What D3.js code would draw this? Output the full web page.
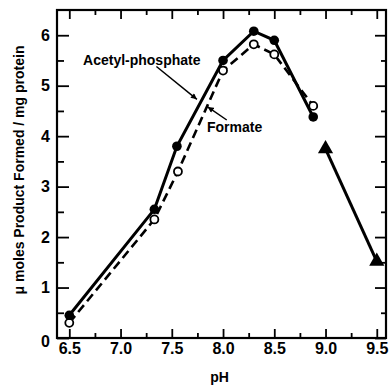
<html>
<head>
<script src="https://d3js.org/d3.v7.min.js"></script>
<style>
  body { margin: 0; background: #fff; }
  text { font-family: "Liberation Sans", Arial, sans-serif; font-weight: bold; fill: #000; }
</style>
</head>
<body>
<script>
// data
var acetylPH  = [6.5, 7.33, 7.55, 8.0, 8.3, 8.5, 8.88];
var acetylVal = [0.45, 2.55, 3.8, 5.5, 6.08, 5.9, 4.38];
var formatePH  = [6.5, 7.33, 7.56, 8.0, 8.3, 8.5, 8.88];
var formateVal = [0.3, 2.35, 3.3, 5.3, 5.82, 5.62, 4.6];
var triPH  = [9.0, 9.5];
var triVal = [3.75, 1.52];
var xMajor = [6.5, 7.0, 7.5, 8.0, 8.5, 9.0, 9.5];
var xMinor = [6.75, 7.25, 7.75, 8.25, 8.75, 9.25];
var yMajor = [0, 1, 2, 3, 4, 5, 6];
var yMinor = [0.5, 1.5, 2.5, 3.5, 4.5, 5.5];

var w = 389, h = 385;
var pl = 57, pr = 386, pt = 10, pb = 338; // plot frame edges

var x = d3.scaleLinear().domain([6.38, 9.59]).range([pl, pr]);
var y = d3.scaleLinear().domain([0, 6.5]).range([pb, pt]);

var svg = d3.select("body").append("svg").attr("width", w).attr("height", h);

// ticks (all pointing inward)
svg.append("g").attr("transform", "translate(0," + pb + ")")
  .call(d3.axisBottom(x).tickValues(xMajor).tickSize(-9).tickPadding(5).tickFormat(d3.format(".1f")))
  .call(g => g.select(".domain").remove())
  .call(g => g.selectAll("text").style("font-size", "16px"));
svg.append("g").attr("transform", "translate(0," + pb + ")")
  .call(d3.axisBottom(x).tickValues(xMinor).tickSize(-5).tickFormat(""))
  .call(g => g.select(".domain").remove());
svg.append("g").attr("transform", "translate(0," + pt + ")")
  .call(d3.axisTop(x).tickValues(xMajor).tickSize(-9).tickFormat(""))
  .call(g => g.select(".domain").remove());
svg.append("g").attr("transform", "translate(0," + pt + ")")
  .call(d3.axisTop(x).tickValues(xMinor).tickSize(-5).tickFormat(""))
  .call(g => g.select(".domain").remove());

svg.append("g").attr("transform", "translate(" + pl + ",0)")
  .call(d3.axisLeft(y).tickValues(yMajor).tickSize(-12).tickPadding(7).tickFormat(d3.format("d")))
  .call(g => g.select(".domain").remove())
  .call(g => g.selectAll("text").style("font-size", "16px"))
  .call(g => g.selectAll("text").filter(d => d === 0).attr("dy", "0.55em"));
svg.append("g").attr("transform", "translate(" + pl + ",0)")
  .call(d3.axisLeft(y).tickValues(yMinor).tickSize(-7).tickFormat(""))
  .call(g => g.select(".domain").remove());
svg.append("g").attr("transform", "translate(" + pr + ",0)")
  .call(d3.axisRight(y).tickValues(yMajor).tickSize(-11).tickFormat(""))
  .call(g => g.select(".domain").remove());
svg.append("g").attr("transform", "translate(" + pr + ",0)")
  .call(d3.axisRight(y).tickValues(yMinor).tickSize(-5).tickFormat(""))
  .call(g => g.select(".domain").remove());

svg.selectAll(".tick line").attr("stroke", "#000").attr("stroke-width", 1.8);

// frame
svg.append("rect").attr("x", pl).attr("y", pt)
  .attr("width", pr - pl).attr("height", pb - pt)
  .attr("fill", "none").attr("stroke", "#000").attr("stroke-width", 2.2);

// axis titles
svg.append("text").attr("x", (pl + pr) / 2 - 2).attr("y", 382)
  .attr("text-anchor", "middle").style("font-size", "14px").text("pH");
svg.append("text").attr("transform", "translate(24,170) rotate(-90)")
  .attr("text-anchor", "middle").style("font-size", "14px")
  .text("\u03bc moles Product Formed / mg protein");

var line = d3.line().x(d => x(d[0])).y(d => y(d[1]));
var acetyl = d3.zip(acetylPH, acetylVal);
var formate = d3.zip(formatePH, formateVal);
var tri = d3.zip(triPH, triVal);

svg.append("path").datum(formate).attr("d", line)
  .attr("fill", "none").attr("stroke", "#000").attr("stroke-width", 2.6)
  .attr("stroke-dasharray", "9,5");
svg.append("path").datum(acetyl).attr("d", line)
  .attr("fill", "none").attr("stroke", "#000").attr("stroke-width", 3);
svg.append("path").datum(tri).attr("d", line)
  .attr("fill", "none").attr("stroke", "#000").attr("stroke-width", 3);

svg.selectAll(".open").data(formate).enter().append("circle")
  .attr("cx", d => x(d[0])).attr("cy", d => y(d[1])).attr("r", 4)
  .attr("fill", "#fff").attr("stroke", "#000").attr("stroke-width", 1.8);
svg.selectAll(".filled").data(acetyl).enter().append("circle")
  .attr("cx", d => x(d[0])).attr("cy", d => y(d[1])).attr("r", 4.8)
  .attr("fill", "#000");
svg.selectAll(".tri").data(tri).enter().append("path")
  .attr("d", d3.symbol().type(d3.symbolTriangle).size(100))
  .attr("transform", d => "translate(" + x(d[0]) + "," + y(d[1]) + ")")
  .attr("fill", "#000");

// annotations
svg.append("defs").append("marker").attr("id", "arr")
  .attr("viewBox", "0 0 10 10").attr("refX", 10).attr("refY", 5)
  .attr("markerWidth", 7).attr("markerHeight", 6).attr("orient", "auto")
  .attr("markerUnits", "userSpaceOnUse")
  .append("path").attr("d", "M0,0L10,5L0,10z").attr("fill", "#000");

svg.append("text").attr("x", x(6.634)).attr("y", y(5.41)).style("font-size", "14px").text("Acetyl-phosphate");
svg.append("line").attr("x1", x(7.35)).attr("y1", y(5.38)).attr("x2", x(7.745)).attr("y2", y(4.73))
  .attr("stroke", "#000").attr("stroke-width", 1.5).attr("marker-end", "url(#arr)");
svg.append("text").attr("x", x(7.843)).attr("y", y(4.08)).style("font-size", "14px").text("Formate");
svg.append("line").attr("x1", x(8.036)).attr("y1", y(4.32)).attr("x2", x(7.85)).attr("y2", y(4.58))
  .attr("stroke", "#000").attr("stroke-width", 1.5).attr("marker-end", "url(#arr)");
</script>
</body>
</html>
